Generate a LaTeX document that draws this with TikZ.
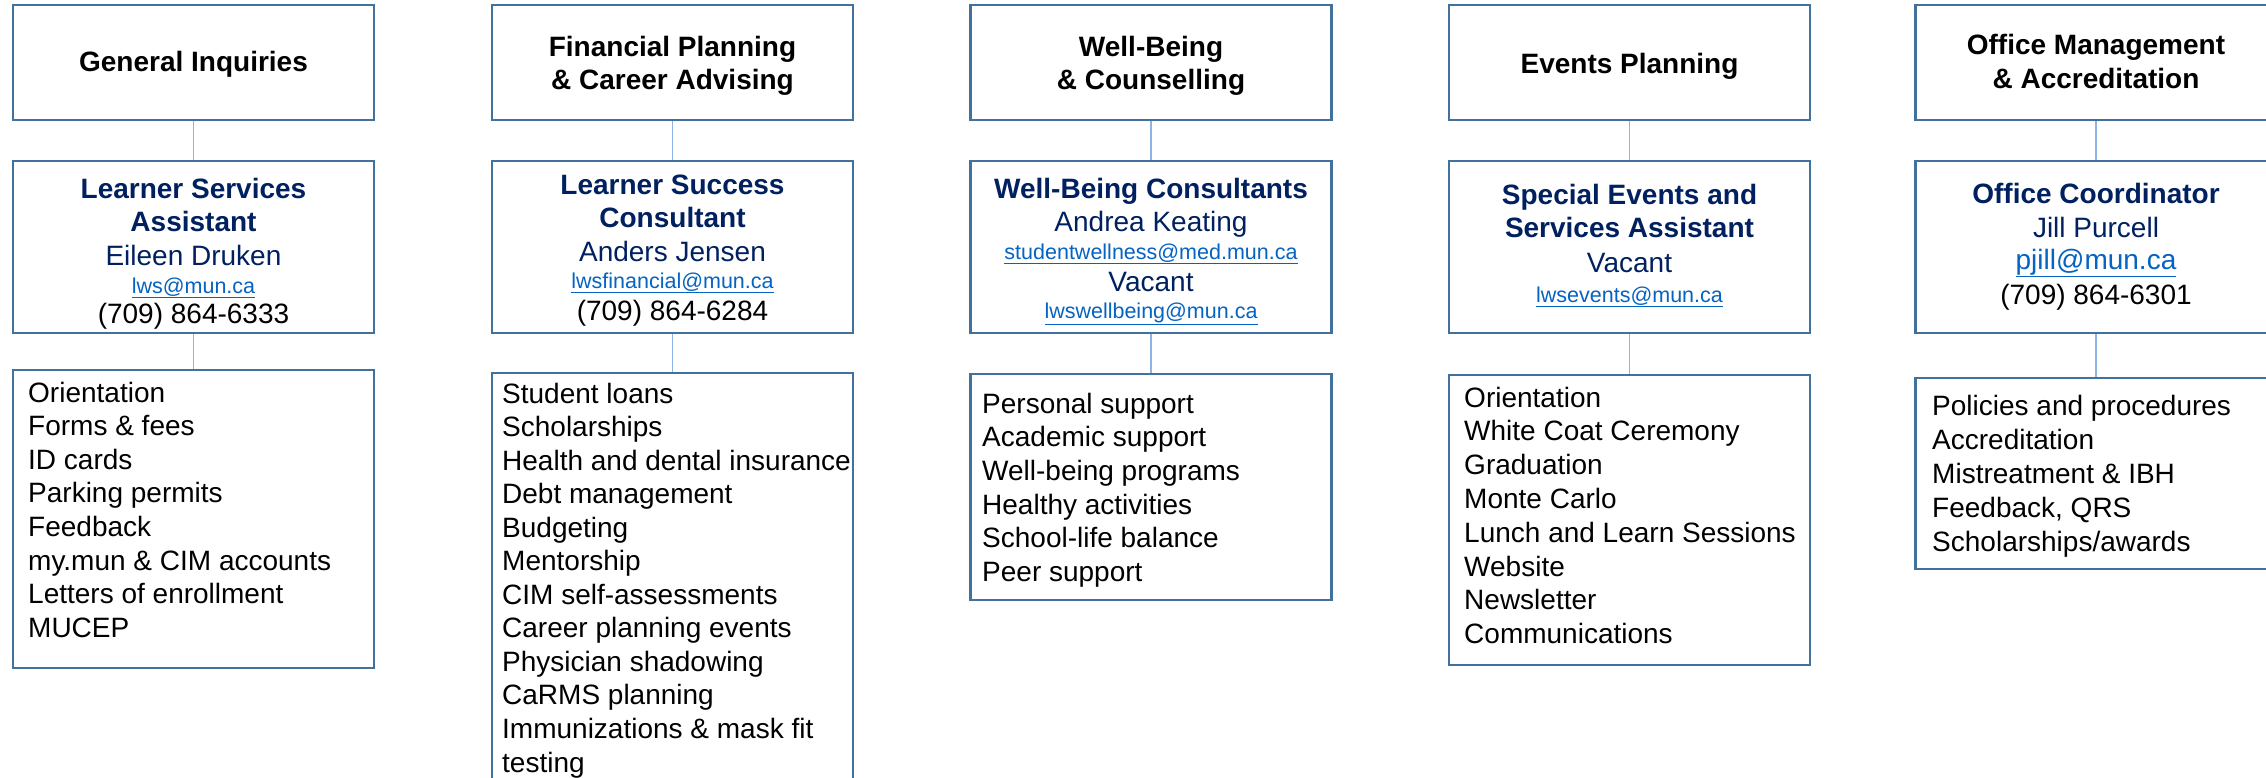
\documentclass[tikz,border=0pt]{standalone}
\usepackage{fontspec}
\setmainfont{Liberation Sans}
\usetikzlibrary{backgrounds}
\definecolor{boxblue}{HTML}{41719C}
\definecolor{linkblue}{HTML}{0563C1}
\definecolor{conblue}{HTML}{8DB4E2}
\definecolor{navyc}{HTML}{002060}
\begin{document}
\begin{tikzpicture}[x=1pt,y=-1pt,
 boxnode/.style={draw=boxblue, line width=2.7pt, fill=white, rectangle, inner sep=0pt, minimum width=361pt},
 conn/.style={draw=conblue, line width=1.8pt},
 hdtxt/.style={anchor=base, inner sep=0pt, font=\fontsize{28}{33}\selectfont\bfseries},
 ttltxt/.style={anchor=base, inner sep=0pt, text=navyc, font=\fontsize{28}{33}\selectfont\bfseries},
 perstxt/.style={anchor=base, inner sep=0pt, text=navyc, font=\fontsize{28}{33}\selectfont},
 phtxt/.style={anchor=base, inner sep=0pt, font=\fontsize{28}{33}\selectfont},
 mailtxt/.style={anchor=base, inner sep=0pt, text=linkblue, font=\fontsize{21.5}{26}\selectfont},
 itemtxt/.style={anchor=base west, inner sep=0pt, font=\fontsize{28}{33}\selectfont}]
\useasboundingbox (0,0) rectangle (2266,777);
\clip (0,0) rectangle (2266,777);

% ---------- top boxes ----------
\node[boxnode, minimum height=115pt] (t1) at (193.5,62.5) {};
\node[boxnode, minimum height=115pt] (t2) at (672.5,62.5) {};
\node[boxnode, minimum height=115pt] (t3) at (1151,62.5) {};
\node[boxnode, minimum height=115pt] (t4) at (1629.5,62.5) {};
\node[boxnode, minimum height=115pt] (t5) at (2096,62.5) {};

% ---------- middle boxes ----------
\node[boxnode, minimum height=172pt] (m1) at (193.5,247) {};
\node[boxnode, minimum height=172pt] (m2) at (672.5,247) {};
\node[boxnode, minimum height=172pt] (m3) at (1151,247) {};
\node[boxnode, minimum height=172pt] (m4) at (1629.5,247) {};
\node[boxnode, minimum height=172pt] (m5) at (2096,247) {};

% ---------- bottom boxes ----------
\node[boxnode, minimum height=298pt] (b1) at (193.5,519) {};
\node[boxnode, minimum height=417pt] (b2) at (672.5,581.5) {};
\node[boxnode, minimum height=226pt] (b3) at (1151,487) {};
\node[boxnode, minimum height=290pt] (b4) at (1629.5,520) {};
\node[boxnode, minimum height=191pt] (b5) at (2096,473.5) {};

% ---------- connectors ----------
\begin{scope}[on background layer]
\foreach \c in {1,...,5}{
  \draw[conn] (t\c.south) -- (m\c.north);
  \draw[conn] (m\c.south) -- (b\c.north);
}
\end{scope}

% ---------- top texts ----------
\node[hdtxt] (h1) at (193.5,71) {General Inquiries};
\node[hdtxt] (h2a) at (672.5,56) {Financial Planning};
\node[hdtxt] (h2b) at (672.5,89) {\& Career Advising};
\node[hdtxt] (h3a) at (1151,56) {Well-Being};
\node[hdtxt] (h3b) at (1151,89) {\& Counselling};
\node[hdtxt] (h4) at (1629.5,73) {Events Planning};
\node[hdtxt] (h5a) at (2096,54) {Office Management};
\node[hdtxt] (h5b) at (2096,88) {\& Accreditation};

% ---------- middle texts ----------
\node[ttltxt] (p1a) at (193.5,198) {Learner Services};
\node[ttltxt] (p1b) at (193.5,231) {Assistant};
\node[perstxt] (p1c) at (193.5,265) {Eileen Druken};
\node[mailtxt] (p1d) at (193.5,293) {\underline{lws@mun.ca}};
\node[phtxt] (p1e) at (193.5,323) {(709) 864-6333};

\node[ttltxt] (p2a) at (672.5,194) {Learner Success};
\node[ttltxt] (p2b) at (672.5,227) {Consultant};
\node[perstxt] (p2c) at (672.5,261) {Anders Jensen};
\node[mailtxt] (p2d) at (672.5,288) {\underline{lwsfinancial@mun.ca}};
\node[phtxt] (p2e) at (672.5,320) {(709) 864-6284};

\node[ttltxt] (p3a) at (1151,198) {Well-Being Consultants};
\node[perstxt] (p3b) at (1151,231) {Andrea Keating};
\node[mailtxt] (p3c) at (1151,259) {\underline{studentwellness@med.mun.ca}};
\node[perstxt] (p3d) at (1151,291) {Vacant};
\node[mailtxt] (p3e) at (1151,318) {\underline{lwswellbeing@mun.ca}};

\node[ttltxt] (p4a) at (1629.5,204) {Special Events and};
\node[ttltxt] (p4b) at (1629.5,237) {Services Assistant};
\node[perstxt] (p4c) at (1629.5,272) {Vacant};
\node[mailtxt] (p4d) at (1629.5,302) {\underline{lwsevents@mun.ca}};

\node[ttltxt] (p5a) at (2096,203) {Office Coordinator};
\node[perstxt] (p5b) at (2096,237) {Jill Purcell};
\node[mailtxt, font=\fontsize{28}{33}\selectfont] (p5c) at (2096,269) {\underline{pjill@mun.ca}};
\node[phtxt] (p5d) at (2096,304) {(709) 864-6301};

% ---------- lists ----------
\foreach \t [count=\i] in {Orientation, Forms \& fees, ID cards, Parking permits, Feedback, my.mun \& CIM accounts, Letters of enrollment, MUCEP}
  \node[itemtxt] (la\i) at (28,{402+33.6*(\i-1)}) {\t};

\foreach \t [count=\i] in {Student loans, Scholarships, Health and dental insurance, Debt management, Budgeting, Mentorship, CIM self-assessments, Career planning events, Physician shadowing, CaRMS planning, Immunizations \& mask fit, testing}
  \node[itemtxt] (lb\i) at (502,{403+33.55*(\i-1)}) {\t};

\foreach \t [count=\i] in {Personal support, Academic support, Well-being programs, Healthy activities, School-life balance, Peer support}
  \node[itemtxt] (lc\i) at (982,{413+33.7*(\i-1)}) {\t};

\foreach \t [count=\i] in {Orientation, White Coat Ceremony, Graduation, Monte Carlo, Lunch and Learn Sessions, Website, Newsletter, Communications}
  \node[itemtxt] (ld\i) at (1464,{407+33.8*(\i-1)}) {\t};

\foreach \t [count=\i] in {Policies and procedures, Accreditation, Mistreatment \& IBH, {Feedback, QRS}, Scholarships/awards}
  \node[itemtxt] (le\i) at (1932,{415+34.1*(\i-1)}) {\t};
\end{tikzpicture}
\end{document}
